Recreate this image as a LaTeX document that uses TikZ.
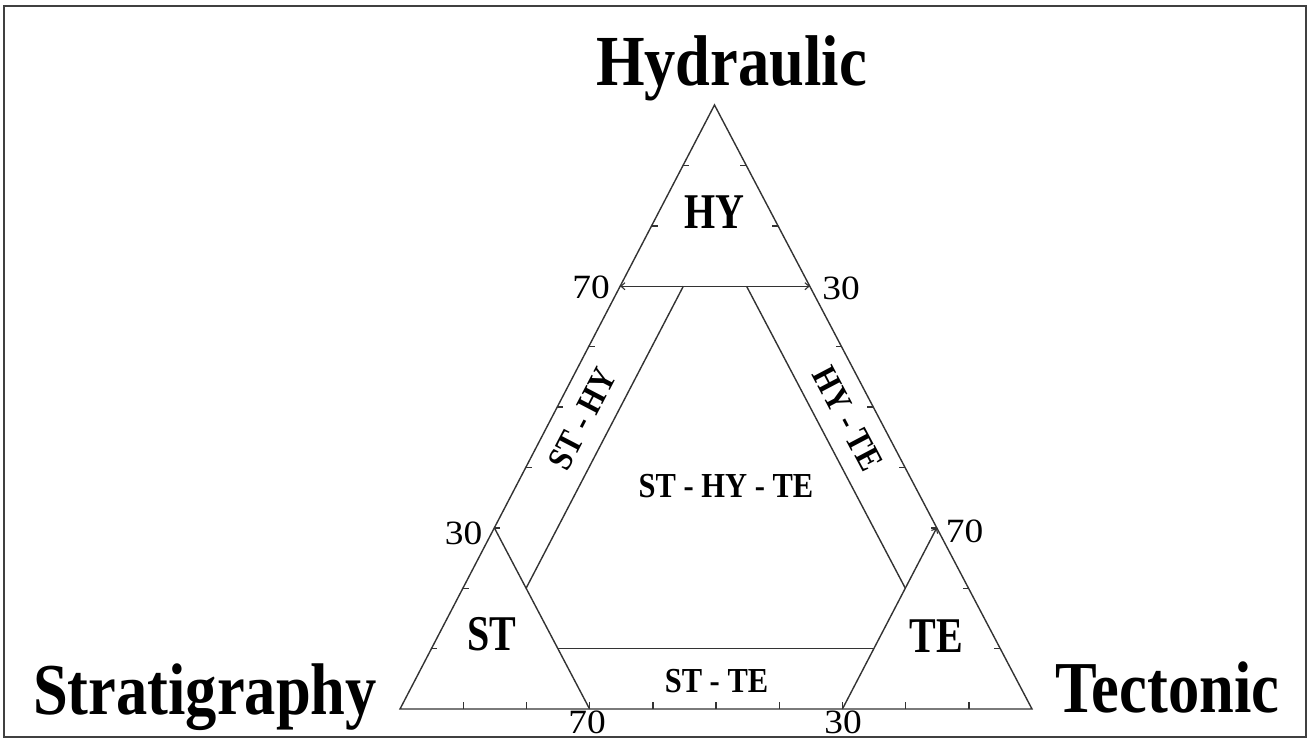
\documentclass[tikz,border=0pt]{standalone}
\usepackage{fontspec}
\usepackage{graphicx}
\setmainfont{Liberation Serif}
\usetikzlibrary{calc,arrows.meta}
\newcommand\myfs[1]{\fontsize{#1}{#1}\selectfont}
\tikzset{
  edge/.style={line width=1.4pt, black!80},
  tick/.style={line width=1.4pt, black!80},
  barb/.tip={Straight Barb[length=4pt,width=7pt,line width=1.1pt]},
  biglabel/.style={inner sep=0pt, anchor=base, font=\myfs{62.5}\bfseries},
  zonelabel/.style={inner sep=0pt, anchor=base, font=\myfs{40}\bfseries},
  bandlabel/.style={inner sep=0pt, font=\myfs{30.5}\bfseries},
  numlabel/.style={inner sep=0pt, font=\myfs{34}},
}
\begin{document}
\begin{tikzpicture}[x=1pt,y=-1pt]
\useasboundingbox (0,0) rectangle (1309,740);
\draw[line width=2.5pt, black!75] (4,6) rectangle (1306,737);
% main vertices
\coordinate (L) at (400,709);
\coordinate (A) at (714.5,105);
\coordinate (R) at (1032,709);
\draw[edge] (L) -- (A) -- (R) -- cycle;
% ticks
\foreach \i in {1,...,9}{
  \coordinate (lt\i) at ($(L)!\i/10!(A)$);
  \coordinate (rt\i) at ($(R)!\i/10!(A)$);
  \coordinate (bt\i) at ($(L)!\i/10!(R)$);
  \draw[tick] (lt\i) -- ++(6,0);
  \draw[tick] (rt\i) -- ++(-6,0);
  \draw[tick] (bt\i) -- ++(0,-7);
}
% corner triangles
\coordinate (hyL) at ($(L)!0.7!(A)$);
\coordinate (hyR) at ($(R)!0.7!(A)$);
\coordinate (stT) at ($(L)!0.3!(A)$);
\coordinate (stB) at ($(L)!0.3!(R)$);
\coordinate (teT) at ($(R)!0.3!(A)$);
\coordinate (teB) at ($(L)!0.7!(R)$);
\draw[edge, barb-barb] (hyL) -- (hyR);
\draw[edge] (stT) -- (stB);
\draw[edge, -barb] (teB) -- (teT);
% inner band lines
\coordinate (p1) at ($0.2*(L)+0.7*(A)+0.1*(R)$);
\coordinate (p2) at ($0.7*(L)+0.2*(A)+0.1*(R)$);
\coordinate (q1) at ($0.1*(L)+0.7*(A)+0.2*(R)$);
\coordinate (q2) at ($0.1*(L)+0.2*(A)+0.7*(R)$);
\coordinate (r1) at ($0.7*(L)+0.1*(A)+0.2*(R)$);
\coordinate (r2) at ($0.2*(L)+0.1*(A)+0.7*(R)$);
\draw[edge] (p1) -- (p2);
\draw[edge] (q1) -- (q2);
\draw[edge] (r1) -- (r2);
% big labels
\node[biglabel] (hyd) at (731.5,85) {\scalebox{1}[1.15]{Hydraulic}};
\node[biglabel] (strat) at (205,714) {\scalebox{1}[1.17]{Stratigraphy}};
\node[biglabel] (tect) at (1167.5,712) {\scalebox{1}[1.17]{Tectonic}};
% zone labels
\node[zonelabel] (hy) at (714,228) {\scalebox{1}[1.25]{HY}};
\node[zonelabel] (st) at (492,650) {\scalebox{1}[1.25]{ST}};
\node[zonelabel] (te) at (936.5,652) {\scalebox{1}[1.25]{TE}};
\node[bandlabel, anchor=base] (sthyte) at (726,497) {\scalebox{1}[1.15]{ST - HY - TE}};
\node[bandlabel, anchor=base] (stte) at (716.5,692) {\scalebox{1}[1.15]{ST - TE}};
\coordinate (sthyc) at ($0.47*(L)+0.48*(A)+0.05*(R)$);
\coordinate (hytec) at ($0.05*(L)+0.48*(A)+0.47*(R)$);
\node[bandlabel, rotate=62.5] (sthy) at (sthyc) {\scalebox{1}[1.15]{ST - HY}};
\node[bandlabel, rotate=-62.2] (hyte) at (hytec) {\scalebox{1}[1.15]{HY - TE}};
% numbers
\node[numlabel] (n1) at (591,287) {\scalebox{1.1}[1]{70}};
\node[numlabel] (n2) at (841,288) {\scalebox{1.1}[1]{30}};
\node[numlabel] (n3) at (463.5,533) {\scalebox{1.1}[1]{30}};
\node[numlabel] (n4) at (964.5,531.5) {\scalebox{1.1}[1]{70}};
\node[numlabel] (n5) at (587,722) {\scalebox{1.1}[1]{70}};
\node[numlabel] (n6) at (843,722) {\scalebox{1.1}[1]{30}};
\end{tikzpicture}
\end{document}
